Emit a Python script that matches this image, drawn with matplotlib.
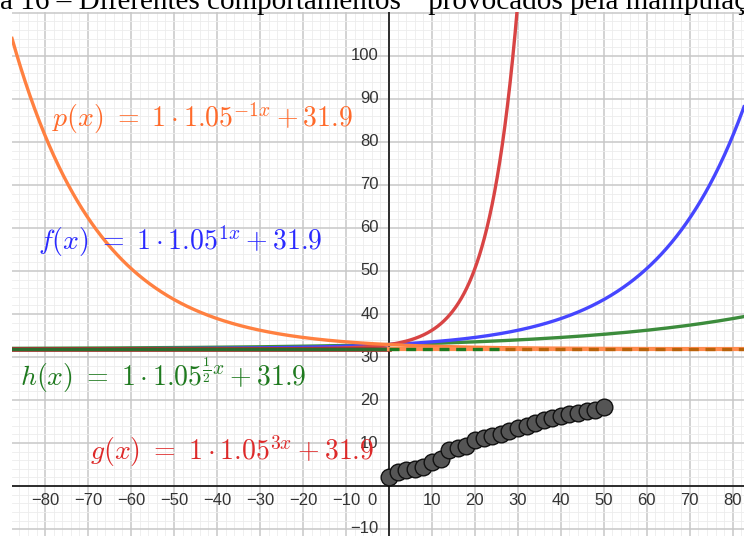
import numpy as np
import matplotlib.pyplot as plt

plt.rcParams['mathtext.fontset'] = 'cm'

# curves y = 1 * 1.05^(k*x) + 31.9
base = 1.05
shift = 31.9
k_p = -1
k_f = 1
k_h = 0.5
k_g = 3

# measured points (x, y)
pts_x = [0, 2, 4, 6, 8, 10, 12, 14, 16, 18, 20, 22, 24, 26, 28, 30,
         32, 34, 36, 38, 40, 42, 44, 46, 48, 50]
pts_y = [2.2, 3.3, 3.7, 4.0, 4.5, 5.6, 6.4, 8.3, 8.8, 9.3, 10.7, 11.2, 11.6,
         12.2, 12.8, 13.4, 14.0, 14.7, 15.3, 15.8, 16.3, 16.7, 17.1, 17.4,
         17.8, 18.3]

x_ticks = [-80, -70, -60, -50, -40, -30, -20, -10, 10, 20, 30, 40, 50, 60, 70, 80]
y_ticks = [10, 20, 30, 40, 50, 60, 70, 80, 90, 100]

xmin, xmax = -87.7, 82.6
ymin, ymax = -11.6, 110.2

fig = plt.figure(figsize=(7.44, 5.36), dpi=100)
ax = fig.add_axes([12 / 744, 0, 732 / 744, 524 / 536])
ax.set_xlim(xmin, xmax)
ax.set_ylim(ymin, ymax)
for s in ax.spines.values():
    s.set_visible(False)
ax.set_xticks([])
ax.set_yticks([])

# grid: fine every 2, main every 10
for v in np.arange(-88, 84, 2):
    ax.axvline(v, color='#ececec' if v % 10 else '#c8c8c8', lw=0.6 if v % 10 else 1.1, zorder=0)
for v in np.arange(-10, 112, 2):
    ax.axhline(v, color='#ececec' if v % 10 else '#c8c8c8', lw=0.6 if v % 10 else 1.1, zorder=0)

# axes
ax.axhline(0, color='black', lw=1.1, zorder=1)
ax.axvline(0, color='black', lw=1.1, zorder=1)
ax.annotate('', xy=(0, ymax + 0.3), xytext=(0, ymax - 3),
            arrowprops=dict(arrowstyle='->', color='black', lw=1.0), zorder=1)

tick_font = dict(fontsize=12, color='#333333', family='Liberation Sans', zorder=2)
for t in x_ticks:
    lab = str(t).replace('-', '\u2212')
    ax.text(t, -3.4, lab, ha='center', va='center', **tick_font)
for t in y_ticks:
    ax.text(-2.4, t, str(t), ha='right', va='center', **tick_font)
ax.text(-3.9, -3.4, '0', ha='center', va='center', **tick_font)
ax.text(-2.4, -9.8, '\u221210', ha='right', va='center', **tick_font)

xs = np.linspace(xmin, xmax, 2000)
ax.plot(xs, base ** (k_h * xs) + shift, color='#3c8c3c', lw=2.4, zorder=3)
ax.plot(xs, base ** (k_f * xs) + shift, color='#4646ff', lw=2.4, zorder=3)
ax.plot(xs, base ** (k_g * xs) + shift, color='#d84444', lw=2.4, zorder=3)
ax.plot(xs, base ** (k_p * xs) + shift, color='#ff8040', lw=2.4, zorder=3)

# asymptote y = 31.9
ax.plot([xmin, 0], [shift, shift], color='#b03030', lw=3.4, zorder=4)
ax.plot([xmin, 0], [shift, shift], color='#2d6b2d', lw=2.4, zorder=4)
ax.plot([0, xmax], [shift, shift], color='#ff8c50', lw=3, zorder=4)
ax.plot([0, 27], [shift, shift], color='#1e7a1e', lw=2.4, ls=(0, (3, 2)), zorder=4)
ax.plot([27, xmax], [shift, shift], color='#b8620a', lw=2.4, ls=(0, (3, 2)), zorder=4)

ax.plot(pts_x, pts_y, 'o', ms=12, mfc='#555555', mec='#111111', mew=1.0, zorder=5)

# formula labels
lab_font = dict(fontsize=20, ha='left', va='baseline', zorder=6)
ax.text(-78.4, 83.5, r'$p(x)\ =\ 1\cdot1.05^{-1x}+31.9$', color='#ff6a2a', **lab_font)
ax.text(-81.6, 54.9, r'$f(x)\ =\ 1\cdot1.05^{1x}+31.9$', color='#2a2aff', **lab_font)
ax.text(-85.8, 23.3, r'$h(x)\ =\ 1\cdot1.05^{\frac{1}{2}x}+31.9$', color='#1f7a1f', **lab_font)
ax.text(-69.5, 6.0, r'$g(x)\ =\ 1\cdot1.05^{3x}+31.9$', color='#dd2a2a', **lab_font)

# caption above, partly cut by the figure edge
fig.text(-0.003, 536 - 9, 'a 16 \u2013 Diferentes comportamentos  \u201cprovocados pela manipula\u00e7\u00e3o',
         transform=None, fontsize=21, family='Liberation Serif', ha='left', va='baseline')

fig.savefig('out.png', dpi=100)
